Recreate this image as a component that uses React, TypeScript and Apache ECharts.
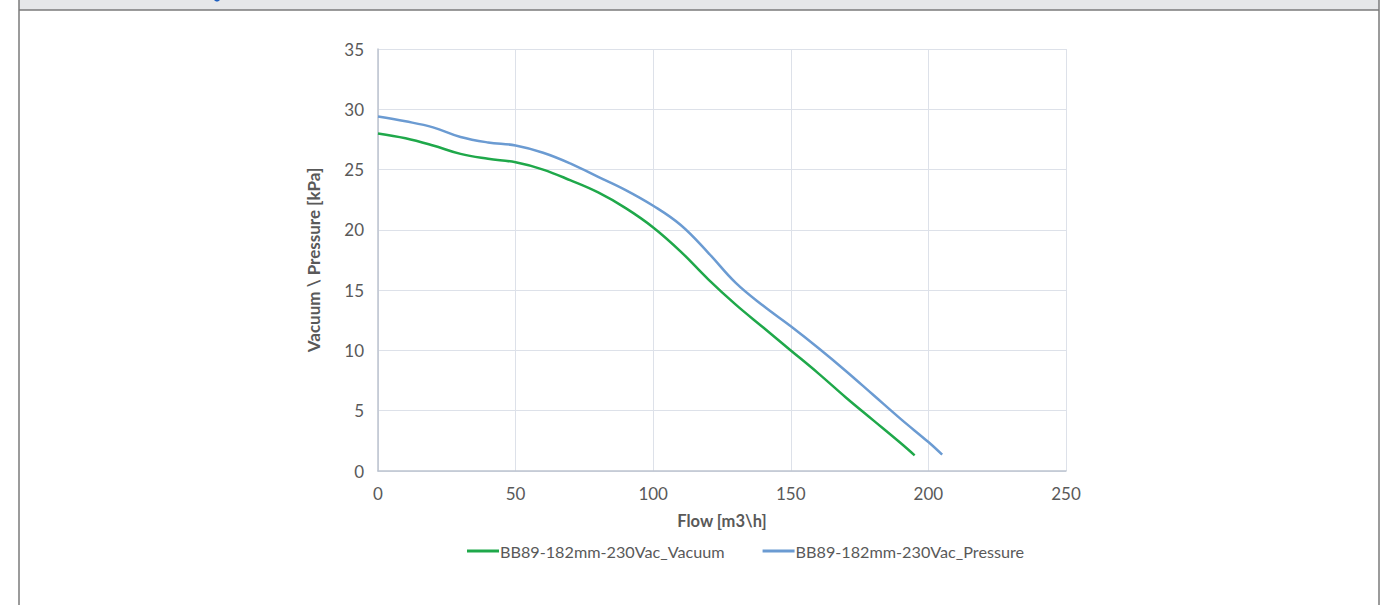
import React, { useEffect, useRef } from "react";
import * as echarts from "echarts";

const vacuumFlow = [0, 10, 20, 30, 40, 50, 60, 70, 80, 90, 100, 110, 120, 130, 140, 150, 160, 170, 180, 190, 195];
const vacuumKPa = [28.0, 27.6, 27.0, 26.3, 25.9, 25.6, 25.0, 24.1, 23.1, 21.8, 20.2, 18.2, 15.9, 13.8, 11.9, 10.0, 8.1, 6.1, 4.2, 2.3, 1.3];
const pressureFlow = [0, 10, 20, 30, 40, 50, 60, 70, 80, 90, 100, 110, 120, 130, 140, 150, 160, 170, 180, 190, 200, 205];
const pressureKPa = [29.4, 29.0, 28.5, 27.7, 27.25, 27.0, 26.4, 25.5, 24.4, 23.3, 22.0, 20.4, 18.1, 15.6, 13.7, 12.0, 10.2, 8.3, 6.3, 4.3, 2.4, 1.35];
const seriesNames = ["BB89-182mm-230Vac_Vacuum", "BB89-182mm-230Vac_Pressure"];
const xAxisTitle = "Flow [m3\\h]";
const yAxisTitle = "Vacuum \\ Pressure [kPa]";

const FONT = "Lato, 'Open Sans', sans-serif";

export default function App() {
  const ref = useRef<HTMLDivElement>(null);
  useEffect(() => {
    document.body.style.margin = "0";
    if (!ref.current) return;
    const chart = echarts.init(ref.current, null, { renderer: "svg" });
    const zip = (xs: number[], ys: number[]) => xs.map((x, i) => [x, ys[i]]);
    chart.setOption({
      animation: false,
      backgroundColor: "#ffffff",
      textStyle: { fontFamily: FONT },
      grid: { left: 378, right: 323, top: 49, bottom: 134, containLabel: false },
      xAxis: {
        type: "value",
        min: 0,
        max: 250,
        interval: 50,
        name: xAxisTitle,
        nameLocation: "middle",
        nameGap: 41,
        nameTextStyle: { color: "#595959", fontSize: 16.5, fontWeight: "bold", fontFamily: FONT },
        axisLine: { show: true, lineStyle: { color: "#bcc3cf", width: 1.5 } },
        axisTick: { show: false },
        axisLabel: { color: "#595959", fontSize: 17, margin: 14, fontFamily: FONT },
        splitLine: { show: true, lineStyle: { color: "#dde1e9", width: 1 } },
      },
      yAxis: {
        type: "value",
        min: 0,
        max: 35,
        interval: 5,
        name: yAxisTitle,
        nameLocation: "middle",
        nameGap: 56,
        nameRotate: 90,
        nameTextStyle: { color: "#595959", fontSize: 17, fontWeight: "bold", fontFamily: FONT },
        axisLine: { show: true, lineStyle: { color: "#bcc3cf", width: 1.5 } },
        axisTick: { show: false },
        axisLabel: { color: "#595959", fontSize: 17, margin: 14, fontFamily: FONT },
        splitLine: { show: true, lineStyle: { color: "#dde1e9", width: 1 } },
      },
      legend: {
        show: true,
        bottom: 41,
        left: 462,
        itemWidth: 32,
        itemHeight: 3,
        itemGap: 38,
        icon: "rect",
        textStyle: { color: "#595959", fontSize: 16.2, fontFamily: FONT, padding: [0, 0, 0, -4] },
        data: seriesNames,
      },
      series: [
        {
          name: seriesNames[0],
          type: "line",
          data: zip(vacuumFlow, vacuumKPa),
          smooth: 0.4,
          showSymbol: false,
          symbol: "none",
          lineStyle: { color: "#1fa84a", width: 2.5 },
          itemStyle: { color: "#1fa84a" },
        },
        {
          name: seriesNames[1],
          type: "line",
          data: zip(pressureFlow, pressureKPa),
          smooth: 0.4,
          showSymbol: false,
          symbol: "none",
          lineStyle: { color: "#6b9bd2", width: 2.5 },
          itemStyle: { color: "#6b9bd2" },
        },
      ],
      graphic: [
        { type: "rect", silent: true, shape: { x: 19, y: 0, width: 1360, height: 10 }, style: { fill: "#e6e7e9" } },
        { type: "line", silent: true, shape: { x1: 19, y1: 10, x2: 1379, y2: 10 }, style: { stroke: "#7a7a7a", lineWidth: 1.5 } },
        { type: "line", silent: true, shape: { x1: 19, y1: 0, x2: 19, y2: 605 }, style: { stroke: "#7a7a7a", lineWidth: 1.5 } },
        { type: "line", silent: true, shape: { x1: 1379, y1: 0, x2: 1379, y2: 605 }, style: { stroke: "#7a7a7a", lineWidth: 1.5 } },
        { type: "circle", silent: true, shape: { cx: 217, cy: -2, r: 3.5 }, style: { fill: "#1f5fbf" } },
      ],
    });
    return () => chart.dispose();
  }, []);
  return <div ref={ref} style={{ width: 1389, height: 605 }} />;
}
